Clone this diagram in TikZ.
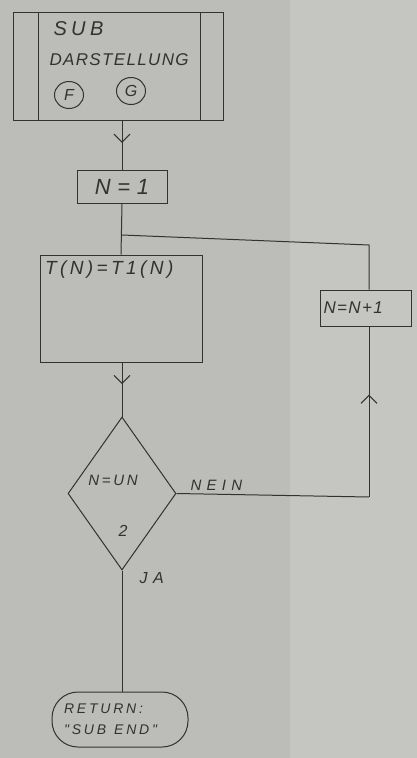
\documentclass[tikz,border=0pt]{standalone}
\usepackage{fontspec}
\usetikzlibrary{arrows.meta,shapes.geometric,decorations.markings,calc}
\newfontfamily\hand[LetterSpace=12]{Liberation Sans}
\definecolor{paper}{RGB}{188,188,184}
\definecolor{paperR}{RGB}{197,197,193}
\definecolor{ink}{RGB}{50,50,50}
\newcommand\hw[2]{\hand\itshape\addfontfeature{LetterSpace=#2}\fontsize{#1}{#1}\selectfont}
\begin{document}
\begin{tikzpicture}[x=1pt,y=-1pt,
  line width=1pt,
  every node/.style={text=ink},
  box/.style={draw=ink, rectangle, inner sep=0pt},
  txt/.style={inner sep=0pt},
  circ/.style={draw=ink, ellipse, inner sep=1.5pt, minimum width=29pt, minimum height=27pt, font=\hw{16}{0}},
  link/.style={draw=ink},
  midarrow/.style={draw=ink, decoration={markings, mark=at position #1 with {\arrow{Straight Barb[length=8pt,width=16pt,line width=1pt]}}}, postaction={decorate}}
]
\fill[paper] (0,0) rectangle (290,758);
\fill[paperR] (290,0) rectangle (417,758);
\useasboundingbox (0,0) rectangle (417,758);

% subroutine box
\node[box, minimum width=210pt, minimum height=108pt] (sub) at (118,66) {};
\draw[ink] ($(sub.north west)+(26,0)$) -- ($(sub.south west)+(26,0)$);
\draw[ink] ($(sub.north east)+(-23,0)$) -- ($(sub.south east)+(-23,0)$);
\node[txt, anchor=west, font=\hw{20}{22}] (t1) at (53,29) {SUB};
\node[txt, anchor=west, font=\hw{17}{8}] (t2) at (49,60) {DARSTELLUNG};
\node[circ] (f) at (69,95) {F};
\node[circ] (g) at (131,91) {G};

% N=1
\node[box, minimum width=90pt, minimum height=33pt, font=\hw{22}{30}] (n1) at (122,187) {N=1};

% T(N)=T1(N)
\node[box, minimum width=162pt, minimum height=107pt] (tn) at (121,308.5) {};
\node[txt, anchor=north west, font=\hw{19}{18}] (tt) at ($(tn.north west)+(5,6)$) {T(N)=T1(N)};

% decision
\node[draw=ink, diamond, minimum width=108pt, minimum height=153pt, inner sep=0pt] (dia) at (122,493.5) {};
\node[txt, font=\hw{15}{18}] (d1) at (113,480) {N=UN};
\node[txt, font=\hw{16}{0}] (d2) at (123,531) {2};

% N=N+1
\node[box, text width=84pt, inner xsep=3.5pt, inner ysep=0pt, minimum height=36pt, align=left, font=\hw{17}{8}] (inc) at (365.5,308) {N=N+1};

% return
\node[draw=ink, rounded corners=26pt, text width=112pt, inner xsep=12pt, minimum height=55pt, align=left, inner ysep=0pt, font=\hw{14}{20}] (ret) at (120,719.5) {RETURN:\\[7pt]"SUB\hspace{8pt}END"};

% connectors
\draw[midarrow=0.45] (sub.south -| n1.north) -- (n1.north);
\draw[link] (n1.south) -- (tn.north);
\coordinate (j) at (122,235);
\coordinate (jr) at (369,245);
\draw[link] (j) -- (jr) -- (jr |- inc.north);
\draw[midarrow=0.4] (tn.south -| dia.north) -- (dia.north);
\coordinate (br) at (369,497);
\draw[link] (dia.east) -- (br);
\draw[midarrow=0.6] (br) -- (br |- inc.south);
\draw[link] (dia.south) -- (ret.north -| dia.south);
\node[txt, anchor=south west, font=\hw{15}{35}] (nein) at (190,491) {NEIN};
\node[txt, anchor=west, font=\hw{16}{35}] (ja) at (139,578) {JA};
\end{tikzpicture}
\end{document}
